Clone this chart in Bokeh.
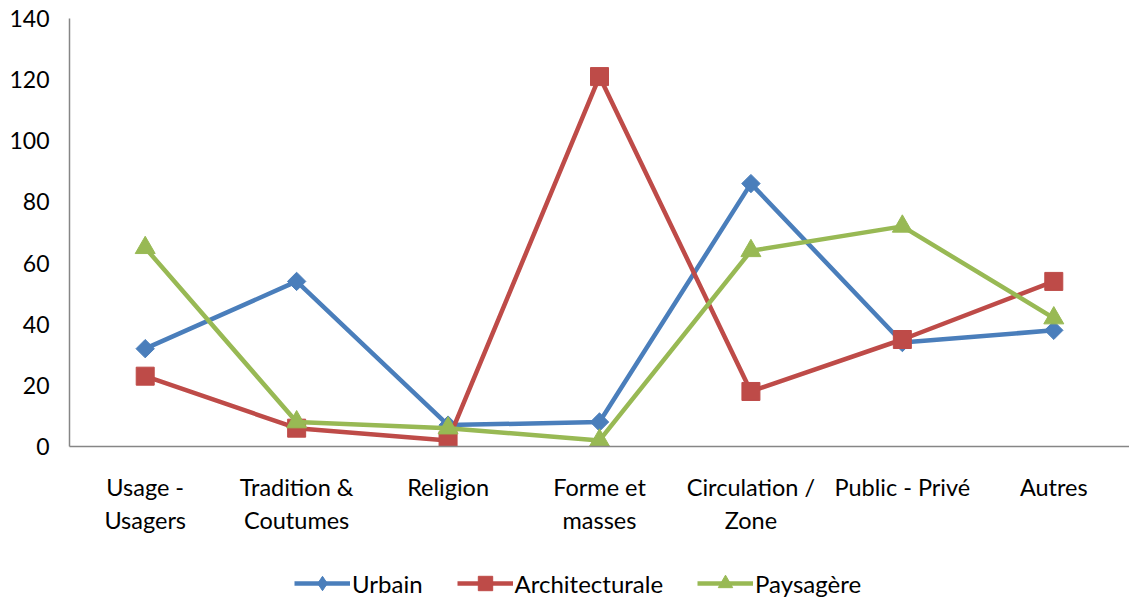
import math
from bokeh.plotting import figure
from bokeh.layouts import column
from bokeh.models import Legend, LegendItem, FixedTicker, Range1d
from bokeh.embed import file_html
from bokeh.resources import INLINE

categories = ["Usage -\nUsagers", "Tradition &\nCoutumes", "Religion", "Forme et\nmasses",
              "Circulation /\nZone", "Public - Privé", "Autres"]
urbain = [32, 54, 7, 8, 86, 34, 38]
architecturale = [23, 6, 2, 121, 18, 35, 54]
paysagere = [65, 8, 6, 2, 64, 72, 42]
y_ticks = [0, 20, 40, 60, 80, 100, 120, 140]

xs = list(range(len(categories)))

FONT = "Lato"
p = figure(frame_width=1060, frame_height=428, output_backend="svg", toolbar_location=None,
           x_range=Range1d(-0.5, 6.5), y_range=Range1d(0, 140),
           min_border_left=69, min_border_top=18, min_border_right=0, min_border_bottom=100)
p.outline_line_color = None
p.xgrid.visible = False
p.ygrid.visible = False
p.background_fill_color = "white"
p.border_fill_color = "white"

p.yaxis.ticker = FixedTicker(ticks=y_ticks)
p.xaxis.ticker = FixedTicker(ticks=xs)
p.xaxis.major_label_overrides = {i: c for i, c in enumerate(categories)}
for ax in (p.xaxis, p.yaxis):
    ax.axis_line_color = "#868686"
    ax.axis_line_width = 1.5
    ax.major_tick_line_color = None
    ax.minor_tick_line_color = None
    ax.major_tick_out = 0
    ax.major_tick_in = 0
    ax.major_label_text_font = FONT
    ax.major_label_text_color = "#000000"
p.yaxis.major_label_text_font_size = "23px"
p.xaxis.major_label_text_font_size = "23.5px"
p.yaxis.major_label_standoff = 20
p.xaxis.major_label_standoff = 26

series = [
    ("Urbain", urbain, "#4A7EBB", "square", 13, math.pi / 4, "diamond"),
    ("Architecturale", architecturale, "#BE4B48", "square", 18, 0, "square"),
    ("Paysagère", paysagere, "#98B954", "triangle", 20, 0, "triangle"),
]

# legend-only strip below the chart (its series copies lie outside its visible range)
p2 = figure(width=1129, height=55, output_backend="svg", toolbar_location=None,
            x_range=Range1d(100, 101), y_range=Range1d(1000, 1001),
            min_border_left=0, min_border_right=0, min_border_top=0, min_border_bottom=0)
p2.axis.visible = False
p2.grid.visible = False
p2.outline_line_color = None

items = []
for name, ys, color, marker, size, ang, lmarker in series:
    p.line(xs, ys, line_color=color, line_width=4.5)
    p.scatter(xs, ys, marker=marker, size=size, angle=ang, fill_color=color, line_color=color)
    l1 = p2.line(xs, ys, line_color=color, line_width=4.5)
    l2 = p2.scatter(xs, ys, marker=lmarker, size=size, fill_color=color, line_color=color)
    items.append(LegendItem(label=name, renderers=[l1, l2]))

legend = Legend(items=items, orientation="horizontal", location=(225, 0),
                label_text_font=FONT, label_text_font_size="24px", label_text_color="#000000",
                glyph_width=56, glyph_height=36, spacing=34, label_standoff=2,
                border_line_color=None, background_fill_alpha=0, margin=0, padding=0)
p2.add_layout(legend, "center")

layout = column(p, p2, spacing=0)
open("out.html", "w").write(file_html(layout, INLINE))
